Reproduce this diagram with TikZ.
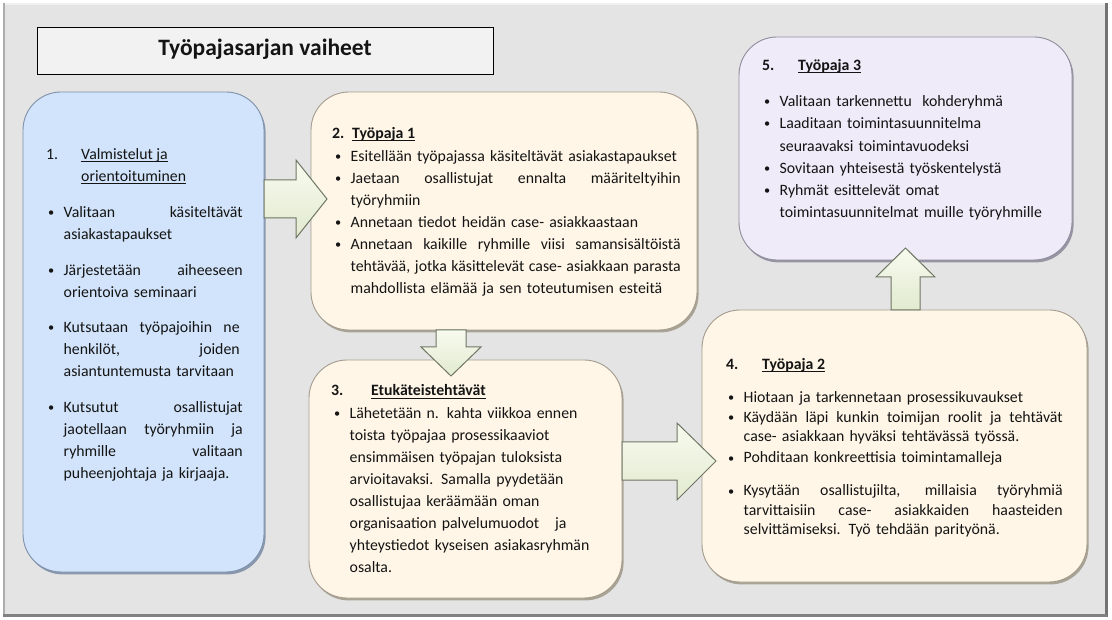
\documentclass[tikz,border=0pt]{standalone}
\usepackage{fontspec}
\setmainfont{Carlito}
\usetikzlibrary{shadows}
\definecolor{bgC}{HTML}{E4E4E4}
\definecolor{titleF}{HTML}{F2F2F2}
\definecolor{blueF}{HTML}{D2E4FB}
\definecolor{blueE}{HTML}{7F90A8}
\definecolor{creamF}{HTML}{FFF6E7}
\definecolor{creamE}{HTML}{A39C8E}
\definecolor{lavF}{HTML}{EFEBF8}
\definecolor{lavE}{HTML}{8F8C9C}
\definecolor{arrT}{HTML}{F7FBEF}
\definecolor{arrB}{HTML}{E2EACF}
\definecolor{arrE}{HTML}{6E7664}
\definecolor{txtC}{HTML}{141414}
\newlength\bind \setlength\bind{15.5pt}
\newcommand\bl[1]{\makebox[\bind][l]{\raisebox{0.6pt}{\scalebox{0.78}{\textbullet}}}#1}
\newcommand\cl[1]{\hspace*{\bind}#1}
\newcommand\jl[2]{\makebox[#1pt][s]{\spaceskip=\fontdimen2\font plus 1fil minus \fontdimen4\font\relax #2}}
\newcommand\fr{\rule{0pt}{14pt}}
\newcommand\ul[1]{\setbox0\hbox{#1}\rlap{\rule[-2.4pt]{\wd0}{0.9pt}}\box0}
\newcommand\txtsize{\fontsize{15.8pt}{22pt}\selectfont}
\tikzset{
  pbox/.style={rounded corners=38pt, line width=0.9pt, inner sep=0pt},
  bluebox/.style={pbox, fill=blueF, draw=blueE,
    drop shadow={shadow xshift=1.6pt, shadow yshift=-2.4pt, fill=blueE, opacity=0.9}},
  creambox/.style={pbox, fill=creamF, draw=creamE,
    drop shadow={shadow xshift=1.6pt, shadow yshift=-2.4pt, fill=creamE, opacity=0.9}},
  lavbox/.style={pbox, fill=lavF, draw=lavE,
    drop shadow={shadow xshift=1.6pt, shadow yshift=-2.4pt, fill=lavE, opacity=0.9}},
  body/.style={anchor=north west, inner sep=0pt, align=left, font=\txtsize, text=txtC},
  head/.style={anchor=base west, inner sep=0pt, font=\txtsize, text=txtC},
  bhead/.style={anchor=base west, inner sep=0pt, font=\txtsize\bfseries, text=txtC},
  blockarrow/.style={shading=axis, top color=arrT, bottom color=arrB, draw=arrE,
    line width=1pt, line join=miter},
}
\begin{document}
\begin{tikzpicture}[x=1pt,y=-1pt]
\useasboundingbox (0,0) rectangle (1112,620);
\fill[white] (0,0) rectangle (1112,620);
% outer frame
\fill[bgC] (3,3) rectangle (1107,616);
\draw[line width=2pt, color=gray!12] (3,4) -- (1106,4);
\draw[line width=1.6pt, color=gray!65] (4,3) -- (4,616);
\draw[line width=3pt, color=black!55] (1106,3) -- (1106,617);
\draw[line width=2.6pt, color=black!50] (3,615.5) -- (1107,615.5);
% title
\node[draw=black, fill=titleF, line width=0.8pt, minimum width=456pt, minimum height=47pt,
  inner sep=0pt] (title) at (265,50.5) {};
\node[font=\fontsize{23.5pt}{26pt}\selectfont\bfseries, text=txtC] (titletext) at (265,49) {Työpajasarjan vaiheet};
% boxes
\node[bluebox, minimum width=241pt, minimum height=480pt] (b1) at (143.5,332) {};
\node[creambox, minimum width=386pt, minimum height=238pt] (b2) at (504,211) {};
\node[creambox, minimum width=313pt, minimum height=238pt] (b3) at (465.5,479) {};
\node[creambox, minimum width=385pt, minimum height=272pt] (b4) at (894.5,446) {};
\node[lavbox, minimum width=333pt, minimum height=223pt] (b5) at (905.5,148.5) {};
% arrows
\draw[blockarrow] (264,180) -- (296,180) -- (296,160) -- (327,199) -- (296,238) -- (296,218) -- (264,218) -- cycle;
\draw[blockarrow] (436,330) -- (466,330) -- (466,347) -- (481,347) -- (451,376) -- (421,347) -- (436,347) -- cycle;
\draw[blockarrow] (622,442) -- (677,442) -- (677,423) -- (716,461) -- (677,500) -- (677,480) -- (622,480) -- cycle;
\draw[blockarrow] (891,310) -- (891,277) -- (876,277) -- (905.5,248) -- (935,277) -- (920,277) -- (920,310) -- cycle;
% box 1 text
\node[head] (h1n) at (46,160) {1.};
\node[head] (h1a) at (81,160) {\ul{Valmistelut ja}};
\node[head] (h1b) at (81,182) {\ul{orientoituminen}};
\node[body, text width=200pt] (t1) at (48,203) {\fr\bl{\jl{179}{Valitaan käsiteltävät}}\\
\cl{asiakastapaukset}\\[14pt]
\bl{\jl{179}{Järjestetään aiheeseen}}\\
\cl{orientoiva seminaari}\\[13pt]
\bl{\jl{176}{Kutsutaan työpajoihin ne}}\\
\cl{\jl{176}{henkilöt, joiden}}\\
\cl{asiantuntemusta tarvitaan}\\[14pt]
\bl{\jl{179}{Kutsutut osallistujat}}\\
\cl{\jl{179}{jaotellaan työryhmiin ja}}\\
\cl{\jl{179}{ryhmille valitaan}}\\
\cl{puheenjohtaja ja kirjaaja.}};
% box 2 text
\node[bhead] (h2n) at (332,139) {2.};
\node[bhead] (h2a) at (352,139) {\ul{Työpaja 1}};
\node[body, text width=350pt] (t2) at (335,147) {\fr\bl{Esitellään työpajassa käsiteltävät asiakastapaukset}\\
\bl{\jl{330}{Jaetaan osallistujat ennalta määriteltyihin}}\\
\cl{työryhmiin}\\
\bl{Annetaan tiedot heidän case- asiakkaastaan}\\
\bl{\jl{330}{Annetaan kaikille ryhmille viisi samansisältöistä}}\\
\cl{\jl{330}{tehtävää, jotka käsittelevät case- asiakkaan parasta}}\\
\cl{mahdollista elämää ja sen toteutumisen esteitä}};
% box 3 text
\node[bhead] (h3n) at (331,396) {3.};
\node[bhead] (h3a) at (371,396) {\ul{Etukäteistehtävät}};
\node[body, text width=280pt] (t3) at (334,404) {\fr\bl{Lähetetään n. kahta viikkoa ennen}\\
\cl{toista työpajaa prosessikaaviot}\\
\cl{ensimmäisen työpajan tuloksista}\\
\cl{arvioitavaksi. Samalla pyydetään}\\
\cl{osallistujaa keräämään oman}\\
\cl{organisaation palvelumuodot\ \ \ ja}\\
\cl{yhteystiedot kyseisen asiakasryhmän}\\
\cl{osalta.}};
% box 4 text
\node[bhead] (h4n) at (726,370) {4.};
\node[bhead] (h4a) at (762,370) {\ul{Työpaja 2}};
\node[body, text width=345pt, font=\fontsize{15.8pt}{19.5pt}\selectfont] (t4) at (728,388) {\fr\bl{Hiotaan ja tarkennetaan prosessikuvaukset}\\[0.5pt]
\bl{\jl{319}{Käydään läpi kunkin toimijan roolit ja tehtävät}}\\
\cl{case- asiakkaan hyväksi tehtävässä työssä.}\\[1.5pt]
\bl{Pohditaan konkreettisia toimintamalleja}\\[13.5pt]
\bl{\jl{319}{Kysytään osallistujilta, millaisia työryhmiä}}\\
\cl{\jl{319}{tarvittaisiin case- asiakkaiden haasteiden}}\\
\cl{selvittämiseksi. Työ tehdään parityönä.}};
% box 5 text
\node[bhead] (h5n) at (762,71) {5.};
\node[bhead] (h5a) at (798,71) {\ul{Työpaja 3}};
\node[body, text width=300pt] (t5) at (764,92) {\fr\bl{Valitaan tarkennettu\ \ kohderyhmä}\\
\bl{Laaditaan toimintasuunnitelma}\\[1pt]
\cl{seuraavaksi toimintavuodeksi}\\
\bl{Sovitaan yhteisestä työskentelystä}\\
\bl{Ryhmät esittelevät omat}\\
\cl{toimintasuunnitelmat muille työryhmille}};
\end{tikzpicture}
\end{document}
